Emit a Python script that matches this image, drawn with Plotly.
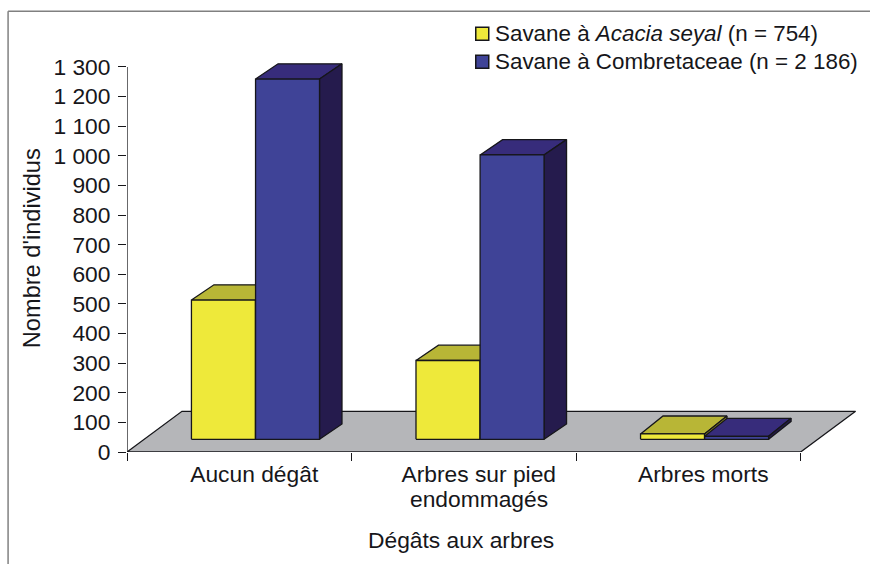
import plotly.graph_objects as go

# Survey counts per damage class
categories = ["Aucun dégât", "Arbres sur pied", "Arbres morts"]
label_continuation = ["", "endommagés", ""]
acacia_values = [470, 266, 18]
combretaceae_values = [1216, 960, 10]
y_ticks = list(range(0, 1301, 100))
y_tick_labels = ["0", "100", "200", "300", "400", "500", "600", "700", "800", "900",
                 "1 000", "1 100", "1 200", "1 300"]
series_names = ["Savane à <i>Acacia seyal</i> (n = 754)", "Savane à Combretaceae (n = 2 186)"]

# Canvas layout, in pixels
W, H = 870, 564
LEFT, RIGHT, BOTTOM = 126.5, 856, 452
PX_PER_100 = 29.64
CAT_PX = 224.7
Y_AXIS_TOP = 1300
Y_RANGE_TOP = 1330  # headroom so the tallest bar's top face stays inside the plot
TOP = BOTTOM - Y_RANGE_TOP * PX_PER_100 / 100
X_UNIT = 1 / CAT_PX
Y_UNIT = 100 / PX_PER_100

# Pseudo-3D geometry, in axis units
BAR_BASE = 12.7 * Y_UNIT
BAR_WIDTH = 64.0 * X_UNIT
YELLOW_OFFSET = -0.213
BLUE_OFFSET = 0.0725
DEPTH_X = 22.5 * X_UNIT
DEPTH_Y = [15.3 * Y_UNIT, 15.3 * Y_UNIT, 18 * Y_UNIT]
FLOOR_DX = 55 * X_UNIT
FLOOR_DY = 40.7 * Y_UNIT

INK = "#16161a"
FONT = "Liberation Sans"
FONT_SIZE = 22.8
LEGEND_SIZE = 22.4
Y_TITLE_SIZE = 23.6
OUTLINE = 1.3

YELLOW = dict(front="#EEE93A", top="#B8B636", side="#8C8A22")
BLUE = dict(front="#3F4397", top="#372C7B", side="#251B4D")


def polygon(xs, ys, fill):
    return go.Scatter(
        x=xs + xs[:1], y=ys + ys[:1], mode="lines", fill="toself", fillcolor=fill,
        line=dict(color=INK, width=OUTLINE), showlegend=False, hoverinfo="skip",
    )


def box(x0, value, dy, width, colors):
    """Front, top and side faces of one bar, back faces first."""
    x1 = x0 + width
    y0 = BAR_BASE
    y1 = BAR_BASE + value
    return [
        polygon([x0, x0 + DEPTH_X, x1 + DEPTH_X, x1], [y1, y1 + dy, y1 + dy, y1], colors["top"]),
        polygon([x1, x1 + DEPTH_X, x1 + DEPTH_X, x1], [y0, y0 + dy, y1 + dy, y1], colors["side"]),
        polygon([x0, x1, x1, x0], [y0, y0, y1, y1], colors["front"]),
    ]


fig = go.Figure()

# Floor plane
fig.add_trace(polygon(
    [-0.5, 2.5, 2.5 + FLOOR_DX, -0.5 + FLOOR_DX],
    [0, 0, FLOOR_DY, FLOOR_DY],
    "#B5B6B9",
))

for i in range(len(categories)):
    for t in box(i + YELLOW_OFFSET, acacia_values[i], DEPTH_Y[i], BAR_WIDTH, YELLOW):
        fig.add_trace(t)
    for t in box(i + BLUE_OFFSET, combretaceae_values[i], DEPTH_Y[i], BAR_WIDTH, BLUE):
        fig.add_trace(t)

# Value axis line, stopping at the last tick
fig.add_trace(go.Scatter(
    x=[-0.5, -0.5], y=[0, Y_AXIS_TOP], mode="lines",
    line=dict(color=INK, width=OUTLINE), showlegend=False, hoverinfo="skip", cliponaxis=False,
))


def px(x):
    return (x - LEFT) / (RIGHT - LEFT)


def py(y):
    return (BOTTOM - y) / (BOTTOM - TOP)


def text(s, x, y, size=FONT_SIZE, **kw):
    return dict(text=s, x=px(x), y=py(y), xref="paper", yref="paper", showarrow=False,
                font=dict(family=FONT, size=size, color=INK), **kw)


annotations = [
    text("Nombre d'individus", 31, 248.5, size=Y_TITLE_SIZE, textangle=-90,
         xanchor="center", yanchor="middle"),
    text("Dégâts aux arbres", 460.5, 540, xanchor="center", yanchor="middle"),
]
for i, extra in enumerate(label_continuation):
    if extra:
        annotations.append(dict(
            text=extra, x=i + 0.0665, y=py(499.5), xref="x", yref="paper", showarrow=False,
            xanchor="center", yanchor="middle",
            font=dict(family=FONT, size=FONT_SIZE, color=INK),
        ))

# Legend rows: swatch plus label
shapes = []
colors = [YELLOW["front"], BLUE["front"]]
for row, (name, colour) in enumerate(zip(series_names, colors)):
    cy = 33.5 + 28 * row
    shapes.append(dict(
        type="rect", xref="paper", yref="paper",
        x0=px(475.5), x1=px(488.5), y0=py(cy + 6.5), y1=py(cy - 6.5),
        fillcolor=colour, line=dict(color=INK, width=1.5),
    ))
    annotations.append(text(name, 493, cy, size=LEGEND_SIZE, xanchor="left", yanchor="middle"))

# Outer frame, open on the right and at the bottom
FRAME = "#808080"
shapes.append(dict(type="line", xref="paper", yref="paper", x0=px(7.5), x1=px(7.5),
                   y0=py(564), y1=py(11), line=dict(color=FRAME, width=1.5)))
shapes.append(dict(type="line", xref="paper", yref="paper", x0=px(7.5), x1=px(870),
                   y0=py(11), y1=py(11), line=dict(color=FRAME, width=1.5)))

fig.update_layout(
    width=W, height=H,
    margin=dict(l=LEFT, r=W - RIGHT, t=TOP, b=H - BOTTOM, autoexpand=False),
    paper_bgcolor="white", plot_bgcolor="white",
    showlegend=False,
    annotations=annotations,
    shapes=shapes,
    font=dict(family=FONT, size=FONT_SIZE, color=INK),
    xaxis=dict(
        range=[-0.5, (RIGHT - LEFT) / CAT_PX - 0.5],
        tickmode="array",
        tickvals=[i + 0.0665 for i in range(len(categories))],
        ticktext=categories,
        ticks="", showgrid=False, zeroline=False, showline=False,
        ticklabelstandoff=6,
        minor=dict(tickmode="array", tickvals=[-0.5, 0.5, 1.5, 2.5], ticks="outside",
                   ticklen=8, tickwidth=1.3, tickcolor=INK, showgrid=False),
    ),
    yaxis=dict(
        range=[0, Y_RANGE_TOP],
        tickmode="array", tickvals=y_ticks, ticktext=y_tick_labels,
        ticks="outside", ticklen=8, tickwidth=1.3, tickcolor=INK,
        showline=False,
        showgrid=False, zeroline=False, ticklabelstandoff=3,
    ),
)

fig.write_html("out.html")
